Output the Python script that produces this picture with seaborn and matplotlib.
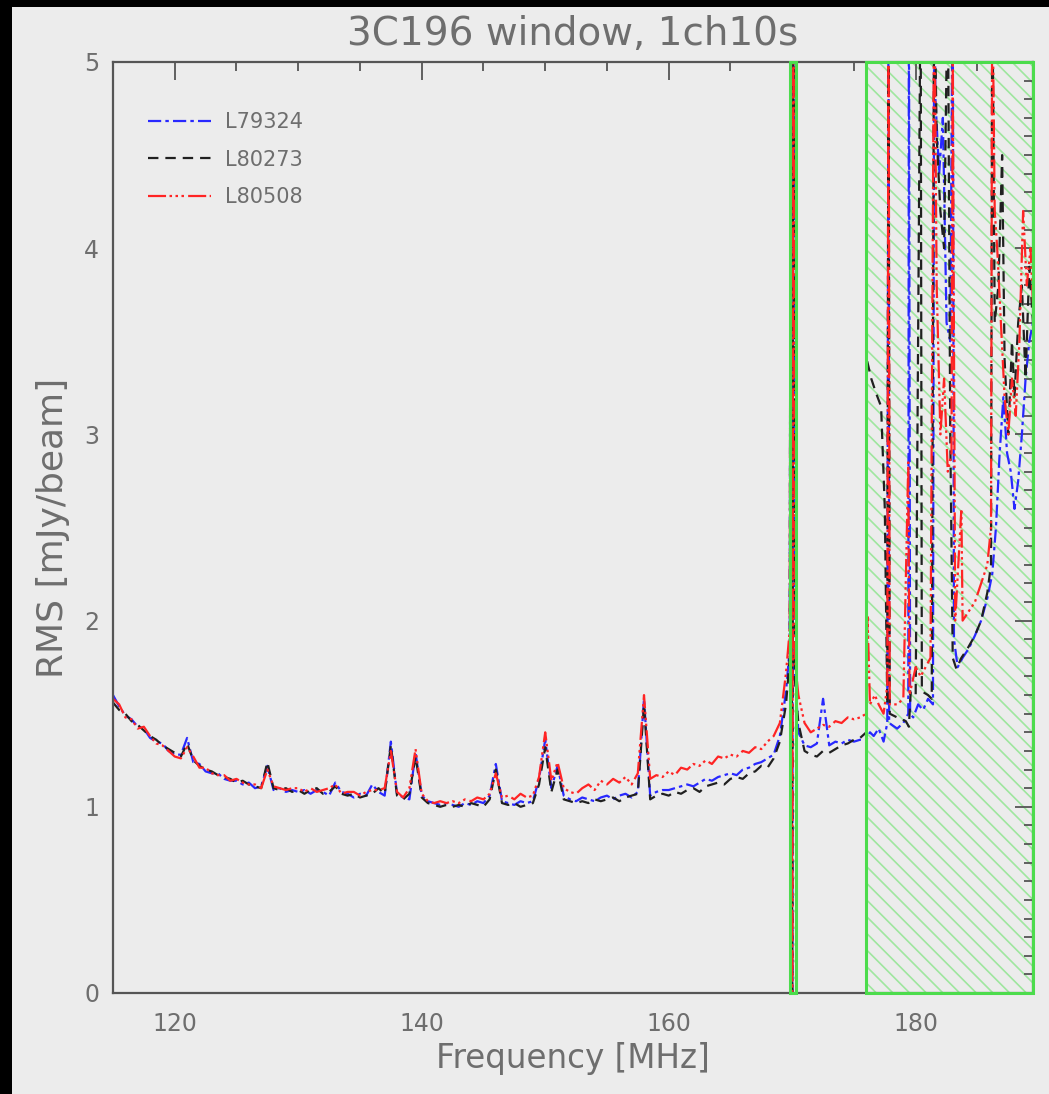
import matplotlib
matplotlib.use("Agg")
import matplotlib.pyplot as plt
from matplotlib.patches import Rectangle
from matplotlib.ticker import MultipleLocator
import pandas as pd
import seaborn as sns

# frequency grid of the smooth part (MHz)
freq_a = [115.0, 115.5, 116.0, 116.5, 117.0, 117.5, 118.0, 118.5, 119.0, 119.5,
          120.0, 120.5, 121.0, 121.5, 122.0, 122.5, 123.0, 123.5, 124.0, 124.5,
          125.0, 125.5, 126.0, 126.5, 127.0, 127.5, 128.0, 128.5, 129.0, 129.5,
          130.0, 130.5, 131.0, 131.5, 132.0, 132.5, 133.0, 133.5, 134.0, 134.5,
          135.0, 135.5, 136.0, 136.5, 137.0, 137.5, 138.0, 138.5, 139.0, 139.5,
          140.0, 140.5, 141.0, 141.5, 142.0, 142.5, 143.0, 143.5, 144.0, 144.5,
          145.0, 145.5, 146.0, 146.5, 147.0, 147.5, 148.0, 148.5, 149.0, 149.5,
          150.0, 150.5, 151.0, 151.5, 152.0, 152.5, 153.0, 153.5, 154.0, 154.5,
          155.0, 155.5, 156.0, 156.5, 157.0, 157.5, 158.0, 158.5, 159.0, 159.5,
          160.0, 160.5, 161.0, 161.5, 162.0, 162.5, 163.0, 163.5, 164.0, 164.5,
          165.0, 165.5, 166.0, 166.5, 167.0, 167.5, 168.0, 168.5, 169.0, 169.5]

# around the 170 MHz flagged channel and up to the hatched band
freq_b = [169.8, 169.9, 170.0, 170.1, 170.2, 170.5, 171.0, 171.5, 172.0, 172.5,
          173.0, 173.5, 174.0, 174.5, 175.0, 175.5]

# RMS [mJy/beam]
blue_a = [1.60, 1.54, 1.49, 1.47, 1.43, 1.42, 1.37, 1.35, 1.34, 1.30,
          1.28, 1.28, 1.37, 1.24, 1.23, 1.19, 1.18, 1.18, 1.15, 1.14,
          1.14, 1.12, 1.13, 1.10, 1.11, 1.22, 1.09, 1.10, 1.08, 1.09,
          1.08, 1.09, 1.07, 1.09, 1.08, 1.06, 1.13, 1.08, 1.07, 1.05,
          1.07, 1.06, 1.12, 1.08, 1.06, 1.35, 1.07, 1.05, 1.04, 1.29,
          1.06, 1.03, 1.02, 1.01, 1.02, 1.01, 1.00, 1.02, 1.01, 1.03,
          1.02, 1.06, 1.23, 1.03, 1.02, 1.01, 1.03, 1.02, 1.03, 1.15,
          1.36, 1.10, 1.22, 1.06, 1.04, 1.03, 1.05, 1.04, 1.03, 1.05,
          1.06, 1.04, 1.06, 1.07, 1.05, 1.08, 1.58, 1.06, 1.08, 1.09,
          1.09, 1.10, 1.11, 1.12, 1.11, 1.13, 1.15, 1.14, 1.16, 1.17,
          1.18, 1.17, 1.20, 1.21, 1.23, 1.24, 1.26, 1.28, 1.38, 1.62]
black_a = [1.56, 1.52, 1.50, 1.46, 1.44, 1.41, 1.38, 1.36, 1.33, 1.31,
           1.29, 1.27, 1.34, 1.25, 1.22, 1.20, 1.19, 1.17, 1.16, 1.15,
           1.13, 1.14, 1.12, 1.11, 1.10, 1.24, 1.10, 1.09, 1.10, 1.08,
           1.09, 1.07, 1.09, 1.10, 1.07, 1.08, 1.11, 1.07, 1.06, 1.07,
           1.05, 1.06, 1.07, 1.10, 1.07, 1.33, 1.06, 1.04, 1.07, 1.27,
           1.05, 1.02, 1.01, 1.00, 1.01, 1.00, 1.01, 1.00, 1.02, 1.01,
           1.00, 1.04, 1.20, 1.02, 1.01, 1.02, 1.00, 1.01, 1.02, 1.12,
           1.32, 1.08, 1.20, 1.04, 1.03, 1.02, 1.03, 1.02, 1.04, 1.03,
           1.04, 1.05, 1.03, 1.05, 1.06, 1.07, 1.55, 1.04, 1.06, 1.07,
           1.06, 1.08, 1.07, 1.09, 1.10, 1.08, 1.11, 1.12, 1.13, 1.12,
           1.15, 1.16, 1.15, 1.18, 1.19, 1.22, 1.21, 1.26, 1.35, 1.55]
red_a = [1.58, 1.55, 1.48, 1.47, 1.42, 1.43, 1.38, 1.34, 1.33, 1.30,
         1.27, 1.26, 1.32, 1.27, 1.21, 1.21, 1.18, 1.17, 1.17, 1.14,
         1.15, 1.13, 1.12, 1.12, 1.10, 1.20, 1.11, 1.10, 1.09, 1.10,
         1.10, 1.08, 1.10, 1.08, 1.09, 1.10, 1.12, 1.07, 1.08, 1.08,
         1.06, 1.08, 1.09, 1.09, 1.10, 1.30, 1.08, 1.05, 1.10, 1.31,
         1.07, 1.03, 1.02, 1.03, 1.02, 1.03, 1.02, 1.04, 1.03, 1.05,
         1.04, 1.07, 1.18, 1.05, 1.06, 1.04, 1.07, 1.05, 1.06, 1.16,
         1.40, 1.14, 1.24, 1.10, 1.08, 1.07, 1.10, 1.12, 1.09, 1.14,
         1.12, 1.15, 1.13, 1.16, 1.12, 1.18, 1.60, 1.15, 1.17, 1.16,
         1.19, 1.17, 1.21, 1.20, 1.23, 1.22, 1.25, 1.23, 1.27, 1.26,
         1.28, 1.27, 1.30, 1.29, 1.32, 1.31, 1.35, 1.38, 1.45, 1.72]

blue_b = [1.85, 6.0, -0.5, 6.0, 1.75, 1.40, 1.33, 1.32, 1.34, 1.58, 1.33, 1.35, 1.34, 1.36, 1.35, 1.36]
black_b = [1.80, 6.0, -0.5, 6.0, 1.70, 1.45, 1.30, 1.28, 1.27, 1.30, 1.29, 1.31, 1.33, 1.34, 1.36, 1.37]
red_b = [1.95, 6.0, -0.5, 6.0, 1.80, 1.60, 1.45, 1.40, 1.42, 1.44, 1.43, 1.46, 1.45, 1.48, 1.47, 1.48]

# hatched (RFI) band, each observation has its own channels
blue_tail_f = [176.0, 176.3, 176.6, 177.0, 177.4, 177.7, 177.8, 177.85, 178.5, 179.0,
               179.4, 179.45, 179.55, 179.8, 180.2, 180.6, 181.0, 181.4, 181.5, 181.6,
               181.9, 182.2, 182.5, 182.8, 183.0, 183.1, 183.4, 183.8, 184.3, 184.8,
               185.3, 185.8, 186.2, 186.5, 186.8, 187.1, 187.4, 187.7, 188.0, 188.3,
               188.6, 188.9, 189.2, 189.5]
blue_tail = [1.36, 1.40, 1.38, 1.42, 1.35, 1.45, 5.5, 1.45, 1.42, 1.45,
             1.50, 5.5, 1.50, 1.48, 1.55, 1.52, 1.58, 1.55, 5.5, 4.8,
             4.4, 4.7, 3.6, 3.5, 5.5, 1.90, 1.75, 1.80, 1.85, 1.92,
             2.00, 2.12, 2.25, 2.50, 2.90, 3.20, 2.90, 2.80, 2.60, 2.75,
             3.00, 3.30, 3.50, 3.60]
black_tail_f = [176.0, 176.05, 176.4, 176.8, 177.2, 177.5, 177.7, 177.8, 177.9, 178.5,
                179.2, 179.45, 179.6, 180.0, 180.4, 180.5, 181.0, 181.3, 181.5, 181.7,
                182.0, 182.3, 182.6, 182.8, 183.0, 183.3, 183.7, 184.2, 184.8, 185.3,
                185.8, 186.1, 186.2, 186.4, 186.7, 187.0, 187.2, 187.5, 187.8, 188.0,
                188.3, 188.6, 188.9, 189.2, 189.5]
black_tail = [1.40, 3.40, 3.30, 3.22, 3.15, 2.60, 1.55, 5.5, 1.50, 1.48,
              1.46, 1.43, 1.62, 1.60, 5.5, 1.62, 1.60, 1.58, 5.5, 4.6,
              4.2, 4.0, 5.5, 3.0, 1.80, 1.74, 1.80, 1.85, 1.92, 2.00,
              2.15, 2.30, 5.5, 3.6, 3.8, 4.5, 3.4, 3.0, 3.5, 3.2,
              3.6, 3.8, 3.3, 3.9, 3.6]
red_tail_f = [176.0, 176.1, 176.3, 176.7, 177.0, 177.4, 177.7, 177.8, 177.9, 178.5,
              179.0, 179.4, 179.5, 180.0, 180.4, 180.8, 181.2, 181.5, 181.7, 182.0,
              182.3, 182.6, 182.9, 183.0, 183.2, 183.7, 183.8, 184.3, 184.8, 185.3,
              185.8, 186.1, 186.2, 186.4, 186.6, 186.9, 187.2, 187.5, 187.8, 188.1,
              188.4, 188.7, 189.0, 189.3, 189.5]
red_tail = [1.50, 2.02, 1.55, 1.60, 1.55, 1.50, 1.65, 5.5, 1.55, 1.55,
            1.58, 2.85, 1.60, 1.75, 1.70, 1.75, 1.80, 5.5, 3.8, 3.0,
            3.3, 2.8, 2.9, 5.0, 2.0, 2.6, 2.0, 2.05, 2.10, 2.20,
            2.30, 2.50, 5.5, 4.2, 4.0, 3.6, 3.2, 3.0, 3.3, 3.1,
            3.5, 4.2, 3.8, 4.0, 3.7]

obs_names = ["L79324", "L80273", "L80508"]
obs_colors = ["#2828ff", "#202020", "#ff2424"]
obs_dashes = [(0, (9.5, 3, 2.5, 3)),
              (0, (7.5, 5)),
              (0, (13, 2.5, 1.8, 2.5, 1.8, 2.5, 1.8, 3))]

series = {
    "L79324": (freq_a + freq_b + blue_tail_f, blue_a + blue_b + blue_tail),
    "L80273": (freq_a + freq_b + black_tail_f, black_a + black_b + black_tail),
    "L80508": (freq_a + freq_b + red_tail_f, red_a + red_b + red_tail),
}

bg = "#ececec"
txt = "#6e6e6e"
axc = "#555555"
green = "#4cdc4c"
hatch_green = "#9fe69f"

sns.set_theme(style="white")
plt.rcParams["font.family"] = ["DejaVu Sans"]
plt.rcParams["lines.scale_dashes"] = False
plt.rcParams["hatch.linewidth"] = 1.2

fig = plt.figure(figsize=(10.49, 10.94), dpi=100, facecolor=bg)
ax = fig.add_axes([113 / 1049, 1 - 993 / 1094, 920 / 1049, 931 / 1094])
ax.set_facecolor(bg)

# flagged bands
ax.axvspan(176.0, 189.5, facecolor="none", edgecolor=hatch_green, hatch="\\\\", lw=0, zorder=0.5)
ax.axvspan(169.8, 170.3, facecolor="none", edgecolor=hatch_green, hatch="\\\\", lw=0, zorder=0.5)

for name, col, ds in zip(obs_names, obs_colors, obs_dashes):
    fx, fy = series[name]
    df = pd.DataFrame({"freq": fx, "rms": fy})
    sns.lineplot(data=df, x="freq", y="rms", ax=ax, sort=False, estimator=None,
                 color=col, linestyle=ds, lw=1.6, label=name)

ax.axvspan(176.0, 189.5, fill=False, edgecolor=green, lw=2.2, zorder=5, clip_on=False)
ax.axvspan(169.8, 170.3, fill=False, edgecolor=green, lw=2.2, zorder=5, clip_on=False)

ax.set_xlim(115, 189.5)
ax.set_ylim(0, 5)
ax.xaxis.set_major_locator(MultipleLocator(20))
ax.xaxis.set_minor_locator(MultipleLocator(5))
ax.yaxis.set_major_locator(MultipleLocator(1))
ax.yaxis.set_minor_locator(MultipleLocator(0.1))
ax.tick_params(which="both", direction="in", top=True, right=True, color=axc,
               labelcolor=txt, labelsize=17, width=1.3)
ax.tick_params(which="major", length=13)
ax.tick_params(which="minor", length=6.5)
ax.tick_params(axis="x", pad=14)
ax.tick_params(axis="y", pad=10)
for sp in ax.spines.values():
    sp.set_color(axc)
    sp.set_linewidth(1.6)

ax.set_title("3C196 window, 1ch10s", fontsize=28, color=txt, pad=12)
ax.set_xlabel("Frequency [MHz]", fontsize=23.5, color=txt, labelpad=4)
ax.set_ylabel("RMS [mJy/beam]", fontsize=26, color=txt, labelpad=10)

leg = ax.legend(loc="upper left", frameon=False, fontsize=15, labelcolor=txt,
                handlelength=3.0, handletextpad=0.7, labelspacing=0.85,
                borderaxespad=0, borderpad=0,
                bbox_to_anchor=((148 - 113) / 920, (993 - 112) / 931))

# black strips at the top and left edge of the screenshot
fig.add_artist(Rectangle((0, 0), 12 / 1049, 1, transform=fig.transFigure,
                         facecolor="black", edgecolor="none"))
fig.add_artist(Rectangle((0, 1 - 7 / 1094), 1, 7 / 1094, transform=fig.transFigure,
                         facecolor="black", edgecolor="none"))

fig.savefig("out.png", dpi=100, facecolor=bg)
